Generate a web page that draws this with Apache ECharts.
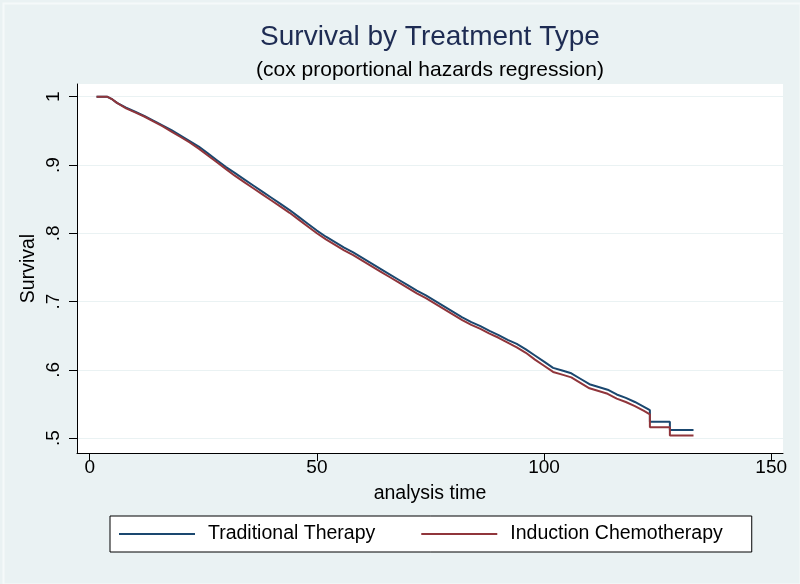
<!DOCTYPE html>
<html><head><meta charset="utf-8">
<script src="https://cdn.jsdelivr.net/npm/echarts@6/dist/echarts.min.js"></script>
<style>html,body{margin:0;padding:0;background:#eaf2f3}#c{width:800px;height:584px}</style>
</head><body><div id="c"></div>
<script>
var titleText = 'Survival by Treatment Type';
var subtitleText = '(cox proportional hazards regression)';
var xName = 'analysis time';
var yName = 'Survival';
var seriesNames = ['Traditional Therapy', 'Induction Chemotherapy'];
var xTicks = [0, 50, 100, 150];
var yTicks = [0.5, 0.6, 0.7, 0.8, 0.9, 1];
var yTickLabels = ['.5', '.6', '.7', '.8', '.9', '1'];

var timeTraditional = [1.5, 3.8, 5, 6, 8, 10, 12, 14, 16, 18, 20, 22, 24, 26, 28, 30, 32, 34, 36, 38, 40, 42, 44, 46, 48, 50,
  52, 54, 56, 58, 60, 62, 64, 66, 68, 70, 72, 74, 76, 78, 80, 82, 84, 86, 88, 90, 92, 94, 96, 98, 100,
  102, 104, 106, 108, 110, 112, 114, 116, 118, 120, 122, 123.3, 123.3, 127.7, 127.7, 132.9];
var survTraditional = [1.000, 1.000, 0.996, 0.991, 0.984, 0.978, 0.972, 0.965, 0.958, 0.951, 0.943, 0.935, 0.927, 0.917, 0.907, 0.897, 0.888, 0.879, 0.870, 0.861, 0.852, 0.843, 0.834, 0.824, 0.814, 0.804,
  0.795, 0.787, 0.779, 0.772, 0.764, 0.756, 0.748, 0.740, 0.732, 0.724, 0.716, 0.709, 0.701, 0.693, 0.685, 0.677, 0.670, 0.664, 0.657, 0.651, 0.644, 0.638, 0.630, 0.621, 0.612,
  0.603, 0.599, 0.595, 0.587, 0.579, 0.575, 0.571, 0.564, 0.559, 0.553, 0.546, 0.541, 0.524, 0.524, 0.512, 0.512];

var timeInduction = [1.5, 3.8, 5, 6, 8, 10, 12, 14, 16, 18, 20, 22, 24, 26, 28, 30, 32, 34, 36, 38, 40, 42, 44, 46, 48, 50,
  52, 54, 56, 58, 60, 62, 64, 66, 68, 70, 72, 74, 76, 78, 80, 82, 84, 86, 88, 90, 92, 94, 96, 98, 100,
  102, 104, 106, 108, 110, 112, 114, 116, 118, 120, 122, 123.3, 123.3, 127.7, 127.7, 132.9];
var survInduction = [1.000, 1.000, 0.996, 0.991, 0.983, 0.977, 0.971, 0.964, 0.957, 0.949, 0.941, 0.933, 0.924, 0.914, 0.904, 0.894, 0.884, 0.875, 0.866, 0.857, 0.848, 0.839, 0.830, 0.820, 0.810, 0.800,
  0.791, 0.783, 0.775, 0.768, 0.760, 0.752, 0.744, 0.736, 0.728, 0.720, 0.712, 0.705, 0.697, 0.689, 0.681, 0.673, 0.666, 0.660, 0.653, 0.647, 0.640, 0.633, 0.625, 0.615, 0.606,
  0.597, 0.593, 0.589, 0.581, 0.573, 0.569, 0.565, 0.558, 0.553, 0.547, 0.540, 0.535, 0.516, 0.516, 0.504, 0.504];

function pairs(t, s) { return t.map(function (v, i) { return [v, s[i]]; }); }

var FONT = 'Liberation Sans';
var chart = echarts.init(document.getElementById('c'), null, { renderer: 'canvas' });
chart.setOption({
  backgroundColor: '#eaf2f3',
  animation: false,
  textStyle: { fontFamily: FONT },
  graphic: [
    { type: 'rect', left: 1, top: 1, shape: { width: 797, height: 581 }, style: { fill: 'none', stroke: '#f5f9fa', lineWidth: 2 }, silent: true },
    { type: 'text', x: 430, y: 37, style: { text: titleText, fill: '#1e2c53', font: '28px ' + FONT, textAlign: 'center', textVerticalAlign: 'middle' } },
    { type: 'text', x: 430, y: 70, style: { text: subtitleText, fill: '#000000', font: '21px ' + FONT, textAlign: 'center', textVerticalAlign: 'middle' } }
  ],
  grid: { left: 77, right: 17, top: 84, bottom: 131, show: true, backgroundColor: '#ffffff', borderWidth: 0 },
  legend: {
    left: 110, top: 516,
    padding: [8, 29, 8, 9],
    itemGap: 46, itemWidth: 76, itemHeight: 2, icon: 'rect',
    backgroundColor: '#ffffff', borderColor: '#000000', borderWidth: 1,
    textStyle: { fontSize: 19.5, color: '#000', fontFamily: FONT, padding: [0, 0, 0, 8] },
    data: seriesNames
  },
  xAxis: {
    type: 'value', min: -2.8, max: 152.6,
    name: xName, nameLocation: 'middle', nameGap: 31,
    nameTextStyle: { fontSize: 19.5, color: '#000' },
    axisLine: { show: true, onZero: false, lineStyle: { color: '#000', width: 1 } },
    axisTick: { show: true, length: 8, customValues: xTicks, lineStyle: { color: '#000' } },
    axisLabel: { customValues: xTicks, fontSize: 19, color: '#000', margin: 5 },
    splitLine: { show: false }
  },
  yAxis: {
    type: 'value', min: 0.4783, max: 1.0186,
    name: yName, nameLocation: 'middle', nameGap: 38, nameMoveOverlap: false,
    nameTextStyle: { fontSize: 19.5, color: '#000' },
    axisLine: { show: true, onZero: false, lineStyle: { color: '#000', width: 1 } },
    axisTick: { show: true, length: 8, customValues: yTicks, lineStyle: { color: '#000' } },
    axisLabel: {
      customValues: yTicks, rotate: 90, fontSize: 19, color: '#000', margin: 14,
      formatter: function (v) { var i = yTicks.indexOf(Math.round(v * 10) / 10); return i >= 0 ? yTickLabels[i] : ''; }
    },
    splitLine: { show: true, customValues: yTicks, lineStyle: { color: '#eaf2f3', width: 1 } }
  },
  series: [
    { name: seriesNames[0], type: 'line', showSymbol: false, symbol: 'none', data: pairs(timeTraditional, survTraditional), lineStyle: { color: '#1a476f', width: 2 }, itemStyle: { color: '#1a476f' } },
    { name: seriesNames[1], type: 'line', showSymbol: false, symbol: 'none', data: pairs(timeInduction, survInduction), lineStyle: { color: '#90353b', width: 2 }, itemStyle: { color: '#90353b' } }
  ]
});
</script></body></html>
